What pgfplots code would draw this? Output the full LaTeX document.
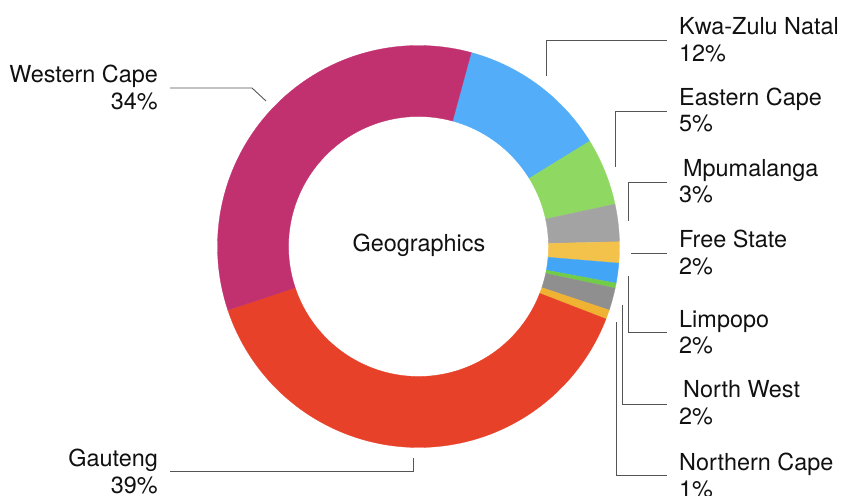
\documentclass[border=0pt]{standalone}
\usepackage{pgfplots}
\pgfplotsset{compat=1.18}
\usepackage{pgfplotstable}
\usepgfplotslibrary{fillbetween}
\usepackage{fontspec}
\setmainfont{TeX Gyre Heros}

\definecolor{c0}{HTML}{53ADF8}
\definecolor{c1}{HTML}{8FD862}
\definecolor{c2}{HTML}{A3A3A3}
\definecolor{c3}{HTML}{F2C24B}
\definecolor{c4}{HTML}{42A5F5}
\definecolor{c5}{HTML}{72CC48}
\definecolor{c6}{HTML}{8F8F8F}
\definecolor{c7}{HTML}{F0B232}
\definecolor{c8}{HTML}{E8412A}
\definecolor{c9}{HTML}{C1306F}
\definecolor{leader}{HTML}{555555}
\definecolor{txt}{HTML}{111111}

\tikzset{
  lbl/.style={font=\fontsize{23.5}{28}\selectfont, text=txt, inner sep=0pt},
  ld/.style={leader, line width=0.9pt, sharp plot},
}

% share of each region (%), clockwise from the top-right
\pgfplotstableread{
name pct
KwaZuluNatal 12.0
EasternCape 5.4
Mpumalanga 3.0
FreeState 1.7
Limpopo 1.6
Other 0.4
NorthWest 1.8
NorthernCape 0.75
Gauteng 39.0
WesternCape 34.35
}\datatable

\begin{document}
\begin{tikzpicture}
\def\cum{74.8}
\pgfplotsforeachungrouped \i in {0,...,9}{%
  \pgfplotstablegetelem{\i}{pct}\of\datatable
  \pgfmathsetmacro\e{\cum-3.6*\pgfplotsretval}%
  \expandafter\xdef\csname sa\i\endcsname{\cum}%
  \expandafter\xdef\csname ea\i\endcsname{\e}%
  \global\let\cum\e
}
\begin{axis}[
  scale only axis, width=843bp, height=496bp,
  xmin=0, xmax=843, ymin=0, ymax=496,
  hide axis, clip=false,
  every axis plot/.append style={no marks},
]
\pgfplotsinvokeforeach{0,...,9}{
  \edef\myS{\csname sa#1\endcsname}
  \edef\myE{\csname ea#1\endcsname}
  \addplot[draw=none, name path=o#1, domain=\myE:\myS, samples=80]
     ({418.5+201*cos(x)},{249.5+201*sin(x)});
  \addplot[draw=none, name path=i#1, domain=\myE:\myS, samples=80]
     ({418.5+130*cos(x)},{249.5+130*sin(x)});
  \addplot[fill=c#1, draw=c#1, line width=0.3pt] fill between[of=o#1 and i#1];
}

% leader lines
\addplot[ld] coordinates {(546,420) (546,456) (667,456)};
\addplot[ld] coordinates {(615.7,329) (615.7,385) (667,385)};
\addplot[ld] coordinates {(628,275) (628,314) (667,314)};
\addplot[ld] coordinates {(631,243) (667,243)};
\addplot[ld] coordinates {(628,220) (628,164) (667,164)};
\addplot[ld] coordinates {(622.7,191) (622.7,92) (667,92)};
\addplot[ld] coordinates {(616.7,174) (616.7,21) (667,21)};
\addplot[ld] coordinates {(170,408) (252,408) (266,395)};
\addplot[ld] coordinates {(170,25) (413,25) (413,38)};

% labels
\node[lbl, anchor=base] at (axis cs:419,244) {Geographics};
\node[lbl, anchor=base west] at (axis cs:679,461) {Kwa-Zulu Natal};
\node[lbl, anchor=base west] at (axis cs:679,434) {12\%};
\node[lbl, anchor=base west] at (axis cs:679,390) {Eastern Cape};
\node[lbl, anchor=base west] at (axis cs:679,364) {5\%};
\node[lbl, anchor=base west] at (axis cs:683,319) {Mpumalanga};
\node[lbl, anchor=base west] at (axis cs:679,293) {3\%};
\node[lbl, anchor=base west] at (axis cs:679,248) {Free State};
\node[lbl, anchor=base west] at (axis cs:679,221) {2\%};
\node[lbl, anchor=base west] at (axis cs:679,168) {Limpopo};
\node[lbl, anchor=base west] at (axis cs:679,142) {2\%};
\node[lbl, anchor=base west] at (axis cs:683,98) {North West};
\node[lbl, anchor=base west] at (axis cs:679,71) {2\%};
\node[lbl, anchor=base west] at (axis cs:679,26) {Northern Cape};
\node[lbl, anchor=base west] at (axis cs:679,-1) {1\%};
\node[lbl, anchor=base east] at (axis cs:158,413) {Western Cape};
\node[lbl, anchor=base east] at (axis cs:158,386) {34\%};
\node[lbl, anchor=base east] at (axis cs:158,29.3) {Gauteng};
\node[lbl, anchor=base east] at (axis cs:158,3) {39\%};
\end{axis}
\pgfresetboundingbox
\path (current axis.south west) rectangle (current axis.north east);
\end{tikzpicture}
\end{document}
